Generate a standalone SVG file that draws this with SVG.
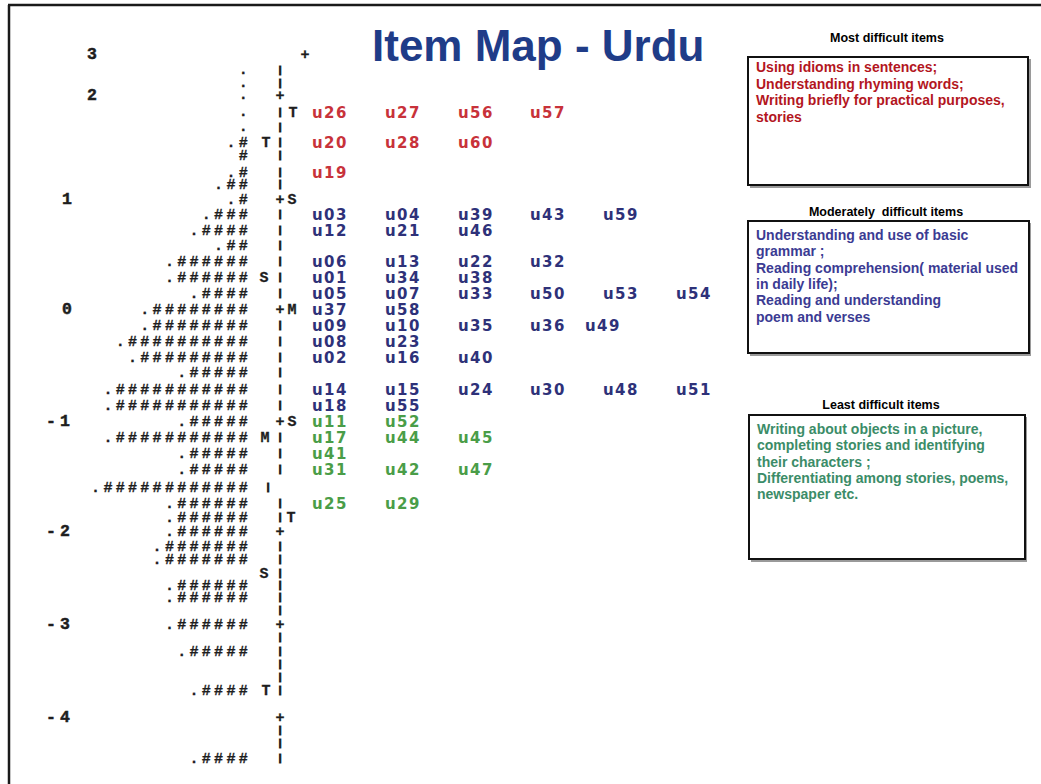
<svg xmlns="http://www.w3.org/2000/svg" width="1041" height="784" viewBox="0 0 1041 784">
  <style>
    .sc { font-family: "Liberation Mono", "DejaVu Sans Mono", monospace; font-weight: bold; font-size: 15px; fill: #1e1e1e; stroke: #1e1e1e; stroke-width: 0.3px; }
    .num { font-size: 16.5px; stroke-width: 0.5px; }
    .h { text-anchor: end; letter-spacing: 3.3px; }
    .c { text-anchor: middle; }
    .bar { font-size: 9.5px; stroke-width: 1px; }
    .it { font-family: "DejaVu Sans", sans-serif; font-weight: bold; font-size: 15px; letter-spacing: 1.4px; }
    .red { fill: #c8323a; }
    .blu { fill: #2e3179; }
    .grn { fill: #4a9d48; }
    .hd { font-family: "Liberation Sans", Arial, sans-serif; font-weight: bold; font-size: 12.5px; fill: #000; text-anchor: middle; white-space: pre; }
    .bx { fill: #fff; stroke: #111; stroke-width: 2; }
    .sh { fill: #9a9a9a; }
    .bt { font-family: "Liberation Sans", Arial, sans-serif; font-weight: bold; font-size: 14px; white-space: pre; }
    .bt-red { fill: #b3161e; }
    .bt-blu { fill: #3b3b93; }
    .bt-grn { fill: #3b8c68; }
  </style>

  <rect x="0" y="0" width="1041" height="784" fill="#fff"/>

  <!-- slide frame -->
  <g id="frame" stroke="#1a1a1a" stroke-width="2.5" fill="none">
    <line x1="8" y1="5" x2="1041" y2="5"/>
    <line x1="9" y1="5" x2="9" y2="784"/>
  </g>

  <g id="title">
    <text x="372" y="61" font-family="Liberation Sans, Arial, sans-serif" font-weight="bold" font-size="44" fill="#1f3c88">Item Map - Urdu</text>
  </g>

  <!-- logit scale numerals -->
  <g id="logit-scale" class="sc num">
    <text class="c" x="92" y="59">3</text>
    <text class="c" x="92" y="100">2</text>
    <text class="c" x="67" y="204">1</text>
    <text class="c" x="67" y="314">0</text>
    <text x="46" y="426" letter-spacing="4">-1</text>
    <text x="46" y="536" letter-spacing="4">-2</text>
    <text x="46" y="629" letter-spacing="4">-3</text>
    <text x="46" y="722" letter-spacing="4">-4</text>
  </g>

  <!-- person distribution -->
  <g id="persons" class="sc h">
    <text x="251" y="74">.</text>
    <text x="251" y="87">.</text>
    <text x="251" y="99">.</text>
    <text x="251" y="116">.</text>
    <text x="251" y="131">.</text>
    <text x="251" y="147">.#</text>
    <text x="251" y="160">#</text>
    <text x="251" y="177">.#</text>
    <text x="251" y="189">.##</text>
    <text x="251" y="204">.#</text>
    <text x="251" y="219">.###</text>
    <text x="251" y="235">.####</text>
    <text x="251" y="250">.##</text>
    <text x="251" y="266">.######</text>
    <text x="251" y="282">.######</text>
    <text x="251" y="298">.####</text>
    <text x="251" y="314">.########</text>
    <text x="251" y="330">.########</text>
    <text x="251" y="346">.##########</text>
    <text x="251" y="362">.#########</text>
    <text x="251" y="377">.#####</text>
    <text x="251" y="394">.###########</text>
    <text x="251" y="410">.###########</text>
    <text x="251" y="426">.#####</text>
    <text x="251" y="442">.###########</text>
    <text x="251" y="458">.#####</text>
    <text x="251" y="474">.#####</text>
    <text x="251" y="492">.############</text>
    <text x="251" y="508">.######</text>
    <text x="251" y="522">.######</text>
    <text x="251" y="536">.######</text>
    <text x="251" y="551">.#######</text>
    <text x="251" y="564">.#######</text>
    <text x="251" y="590">.######</text>
    <text x="251" y="602">.######</text>
    <text x="251" y="629">.######</text>
    <text x="251" y="656">.#####</text>
    <text x="251" y="695">.####</text>
    <text x="251" y="763">.####</text>
  </g>

  <!-- vertical axis with M/S/T markers -->
  <g id="axis" class="sc c">
    <text x="305" y="59">+</text>
    <text class="bar" x="280" y="73">|</text>
    <text class="bar" x="280" y="86">|</text>
    <text x="280" y="100">+</text>
    <text class="bar" x="280" y="115">|</text><text x="293" y="117">T</text>
    <text class="bar" x="280" y="130">|</text>
    <text class="bar" x="280" y="145">|</text><text x="266" y="147">T</text>
    <text class="bar" x="280" y="158">|</text>
    <text class="bar" x="280" y="175">|</text>
    <text class="bar" x="280" y="187">|</text>
    <text x="280" y="204">+</text><text x="292" y="204">S</text>
    <text class="bar" x="280" y="217">|</text>
    <text class="bar" x="280" y="233">|</text>
    <text class="bar" x="280" y="248">|</text>
    <text class="bar" x="280" y="264">|</text>
    <text class="bar" x="280" y="280">|</text><text x="264" y="282">S</text>
    <text class="bar" x="280" y="296">|</text>
    <text x="280" y="314">+</text><text x="292" y="314">M</text>
    <text class="bar" x="280" y="328">|</text>
    <text class="bar" x="280" y="344">|</text>
    <text class="bar" x="280" y="360">|</text>
    <text class="bar" x="280" y="375">|</text>
    <text class="bar" x="280" y="392">|</text>
    <text class="bar" x="280" y="408">|</text>
    <text x="280" y="426">+</text><text x="292" y="426">S</text>
    <text class="bar" x="280" y="440">|</text><text x="265" y="442">M</text>
    <text class="bar" x="280" y="456">|</text>
    <text class="bar" x="280" y="472">|</text>
    <text class="bar" x="268" y="490">|</text>
    <text class="bar" x="280" y="506">|</text>
    <text class="bar" x="280" y="520">|</text><text x="291" y="522">T</text>
    <text x="280" y="536">+</text>
    <text class="bar" x="280" y="549">|</text>
    <text class="bar" x="280" y="562">|</text>
    <text class="bar" x="280" y="576">|</text><text x="264" y="578">S</text>
    <text class="bar" x="280" y="588">|</text>
    <text class="bar" x="280" y="600">|</text>
    <text class="bar" x="280" y="613">|</text>
    <text x="280" y="629">+</text>
    <text class="bar" x="280" y="640">|</text>
    <text class="bar" x="280" y="654">|</text>
    <text class="bar" x="280" y="667">|</text>
    <text class="bar" x="280" y="680">|</text>
    <text class="bar" x="280" y="693">|</text><text x="266" y="695">T</text>
    <text x="280" y="722">+</text>
    <text class="bar" x="280" y="733">|</text>
    <text class="bar" x="280" y="746">|</text>
    <text class="bar" x="280" y="761">|</text>
  </g>

  <!-- item locations -->
  <g id="items" class="it">
    <g class="red">
      <text x="312" y="118">u26</text><text x="385" y="118">u27</text><text x="458" y="118">u56</text><text x="530" y="118">u57</text>
      <text x="312" y="148">u20</text><text x="385" y="148">u28</text><text x="458" y="148">u60</text>
      <text x="312" y="178">u19</text>
    </g>
    <g class="blu">
      <text x="312" y="220">u03</text><text x="385" y="220">u04</text><text x="458" y="220">u39</text><text x="530" y="220">u43</text><text x="603" y="220">u59</text>
      <text x="312" y="236">u12</text><text x="385" y="236">u21</text><text x="458" y="236">u46</text>
      <text x="312" y="267">u06</text><text x="385" y="267">u13</text><text x="458" y="267">u22</text><text x="530" y="267">u32</text>
      <text x="312" y="283">u01</text><text x="385" y="283">u34</text><text x="458" y="283">u38</text>
      <text x="312" y="299">u05</text><text x="385" y="299">u07</text><text x="458" y="299">u33</text><text x="530" y="299">u50</text><text x="603" y="299">u53</text><text x="676" y="299">u54</text>
      <text x="312" y="315">u37</text><text x="385" y="315">u58</text>
      <text x="312" y="331">u09</text><text x="385" y="331">u10</text><text x="458" y="331">u35</text><text x="530" y="331">u36</text><text x="585" y="331">u49</text>
      <text x="312" y="347">u08</text><text x="385" y="347">u23</text>
      <text x="312" y="363">u02</text><text x="385" y="363">u16</text><text x="458" y="363">u40</text>
      <text x="312" y="395">u14</text><text x="385" y="395">u15</text><text x="458" y="395">u24</text><text x="530" y="395">u30</text><text x="603" y="395">u48</text><text x="676" y="395">u51</text>
      <text x="312" y="411">u18</text><text x="385" y="411">u55</text>
    </g>
    <g class="grn">
      <text x="312" y="427">u11</text><text x="385" y="427">u52</text>
      <text x="312" y="443">u17</text><text x="385" y="443">u44</text><text x="458" y="443">u45</text>
      <text x="312" y="459">u41</text>
      <text x="312" y="475">u31</text><text x="385" y="475">u42</text><text x="458" y="475">u47</text>
      <text x="312" y="509">u25</text><text x="385" y="509">u29</text>
    </g>
  </g>

  <!-- legend: most difficult -->
  <g id="most-difficult">
    <text class="hd" x="887" y="42">Most difficult items</text>
    <rect class="sh" x="750" y="59" width="281" height="129"/>
    <rect class="bx" x="748" y="57" width="280" height="128"/>
    <g class="bt bt-red">
      <text x="756" y="72">Using  idioms in sentences;</text>
      <text x="756" y="88.5">Understanding rhyming  words;</text>
      <text x="756" y="105">Writing briefly for practical purposes,</text>
      <text x="756" y="121.5">stories</text>
    </g>
  </g>

  <!-- legend: moderately difficult -->
  <g id="moderately-difficult">
    <text class="hd" x="886" y="216">Moderately  difficult items</text>
    <rect class="sh" x="750" y="223" width="281" height="133"/>
    <rect class="bx" x="748" y="221" width="281" height="132"/>
    <g class="bt bt-blu">
      <text x="756" y="240">Understanding  and use of basic</text>
      <text x="756" y="256.3">grammar ;</text>
      <text x="756" y="272.6">Reading comprehension( material used</text>
      <text x="756" y="288.9">in daily life);</text>
      <text x="756" y="305.2">Reading and understanding</text>
      <text x="756" y="321.5">poem and verses</text>
    </g>
  </g>

  <!-- legend: least difficult -->
  <g id="least-difficult">
    <text class="hd" x="881" y="409">Least difficult items</text>
    <rect class="sh" x="751" y="417" width="276" height="145"/>
    <rect class="bx" x="749" y="415" width="276" height="144"/>
    <g class="bt bt-grn">
      <text x="757" y="434">Writing  about objects in a  picture,</text>
      <text x="757" y="450.3">completing stories and identifying</text>
      <text x="757" y="466.6">their characters ;</text>
      <text x="757" y="482.9">Differentiating among stories, poems,</text>
      <text x="757" y="499.2">newspaper etc.</text>
    </g>
  </g>
</svg>
